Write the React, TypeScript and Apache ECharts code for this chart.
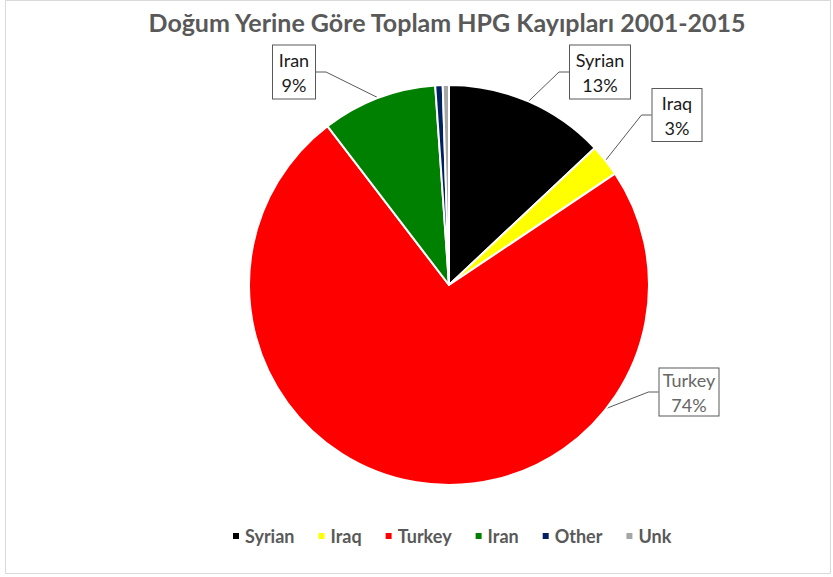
import React, { useEffect, useRef } from "react";
import * as echarts from "echarts";

const categories = ["Syrian", "Iraq", "Turkey", "Iran", "Other", "Unk"];
const shares = [13.0, 2.6, 74.0, 9.3, 0.6, 0.5];
const colors = ["#000000", "#FFFF00", "#FF0000", "#008000", "#002060", "#A6A6A6"];
const titleText = "Doğum Yerine Göre Toplam HPG Kayıpları 2001-2015";

// callout box layout (center x, center y, width, height, text color)
const labelBoxes: Record<string, [number, number, number, number, string]> = {
  Syrian: [600, 72, 62, 55, "#1a1a1a"],
  Iraq: [677, 115, 51, 54, "#1a1a1a"],
  Turkey: [689, 392, 61, 49, "#666666"],
  Iran: [294, 72, 44, 55, "#1a1a1a"],
};

const FONT = "Lato, 'Open Sans', sans-serif";

export default function App() {
  const ref = useRef<HTMLDivElement>(null);
  useEffect(() => {
    document.body.style.margin = "0";
    const chart = echarts.init(ref.current!, null, { renderer: "svg" });
    const data = categories.map((name, i) => {
      const box = labelBoxes[name];
      const item: any = {
        name,
        value: shares[i],
        itemStyle: { color: colors[i] },
      };
      if (box) {
        item.label = {
          show: true,
          width: box[2] - 2,
          height: box[3] - 2,
          color: box[4],
        };
        item.labelLine = { show: true };
      } else {
        item.label = { show: false };
        item.labelLine = { show: false };
      }
      return item;
    });
    chart.setOption({
      animation: false,
      backgroundColor: "#ffffff",
      title: {
        text: titleText,
        left: 442,
        top: 4,
        textAlign: "center",
        textStyle: { fontFamily: FONT, fontWeight: "bold", fontSize: 25, color: "#595959" },
      },
      legend: {
        data: categories,
        left: 226,
        top: 522,
        icon: "rect",
        itemWidth: 8,
        itemHeight: 8,
        itemGap: 22,
        textStyle: { fontFamily: FONT, fontWeight: "bold", fontSize: 18, color: "#595959" },
      },
      graphic: [
        {
          type: "rect",
          shape: { x: 5.5, y: 0.5, width: 825, height: 573 },
          style: { fill: "none", stroke: "#d9d9d9", lineWidth: 1 },
          silent: true,
        },
      ],
      series: [
        {
          type: "pie",
          center: [449, 285],
          radius: 200,
          startAngle: 90,
          clockwise: true,
          avoidLabelOverlap: false,
          itemStyle: { borderColor: "#ffffff", borderWidth: 2 },
          label: {
            position: "outside",
            formatter: (p: any) => `${p.name}\n${Math.round(p.percent)}%`,
            fontFamily: FONT,
            fontSize: 18,
            lineHeight: 25,
            align: "center",
            verticalAlign: "middle",
            backgroundColor: "#ffffff",
            borderColor: "#595959",
            borderWidth: 1,
            padding: 0,
          },
          labelLine: {
            show: true,
            length: 10,
            length2: 10,
            lineStyle: { color: "#595959", width: 1 },
          },
          labelLayout: (params: any) => {
            const box = labelBoxes[categories[params.dataIndex]];
            if (!box) return {};
            return { x: box[0], y: box[1], align: "center", verticalAlign: "middle" };
          },
          emphasis: { disabled: true },
          data,
        },
      ],
    });
    return () => chart.dispose();
  }, []);
  return <div ref={ref} style={{ width: 833, height: 577 }} />;
}
